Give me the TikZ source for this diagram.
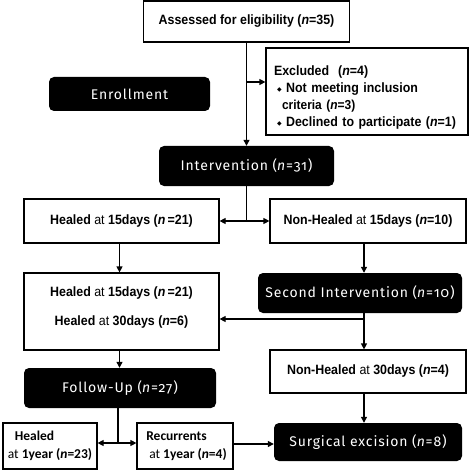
\documentclass[tikz,border=0pt]{standalone}
\usepackage{fontspec}
\setmainfont{Liberation Sans}[FakeStretch=0.92]
\newfontfamily\blkfont[Numbers=OldStyle,LetterSpace=6]{Fira Sans}
\newfontfamily\calfont{Carlito}
\newfontfamily\symfont{DejaVu Sans}
\usetikzlibrary{arrows.meta}
\newcommand{\dmd}{{\symfont\fontsize{6}{6}\selectfont\raisebox{1.5pt}{◆}}}
\tikzset{
  wbox/.style={draw=black, line width=1.2pt, fill=white, inner sep=0pt, align=center,
    font=\fontsize{13.5}{15}\selectfont},
  bbox/.style={fill=black, rounded corners=5pt, inner sep=0pt, text=white,
    font=\blkfont\fontsize{14}{16}\selectfont},
  cbox/.style={draw=black, line width=1.2pt, inner sep=0pt, align=left,
    font=\calfont\fontsize{13.5}{18}\selectfont},
  conn/.style={line width=1.2pt},
  arr/.style={line width=1.2pt, -{Triangle[length=6pt,width=6pt]}}
}
\begin{document}
\begin{tikzpicture}[x=1pt,y=-1pt]
\useasboundingbox[fill=white] (0,0) rectangle (470,470);

\node[wbox, minimum width=206, minimum height=41] (assess) at (246.5,21.5)
  {\textbf{Assessed for eligibility (\textit{n}=35)}};
\node[wbox, minimum width=202, minimum height=87, align=left, text width=186,
  font=\fontsize{13.5}{17}\selectfont] (excl) at (367,91.5)
  {\rule{0pt}{22pt}\textbf{Excluded\ \ (\textit{n}=4)}\\
   \hspace*{3pt}\dmd\ \textbf{Not meeting inclusion}\\
   \hspace*{8pt}{\fontsize{13}{13}\selectfont\textbf{criteria (\textit{n}=3)}}\\
   \hspace*{3pt}\dmd\ \textbf{Declined to participate (\textit{n}=1)}};
\node[bbox, minimum width=161, minimum height=34] (enroll) at (129.5,94) {Enrollment};
\node[bbox, minimum width=175, minimum height=40] (interv) at (246.5,166)
  {Intervention (\textit{n}=31)};
\node[wbox, minimum width=195, minimum height=44] (h15) at (121.5,221)
  {\textbf{Healed} at \textbf{15days (\textit{n}\,=21)}};
\node[wbox, minimum width=196, minimum height=44] (nh15) at (368,221)
  {\textbf{Non-Healed} at \textbf{15days (\textit{n}=10)}};
\node[wbox, minimum width=195, minimum height=77, font=\fontsize{13.5}{29}\selectfont] (h30) at (121.5,311.5)
  {\textbf{Healed} at \textbf{15days (\textit{n}\,=21)}\\
   \textbf{Healed} at \textbf{30days (\textit{n}=6)}\rule[-10pt]{0pt}{10pt}};
\node[bbox, minimum width=204, minimum height=40] (sec) at (360,293)
  {Second Intervention (\textit{n}=10)};
\node[wbox, minimum width=196, minimum height=43] (nh30) at (368,371.5)
  {\textbf{Non-Healed} at \textbf{30days (\textit{n}=4)}};
\node[bbox, minimum width=192, minimum height=40] (follow) at (120,388)
  {Follow-Up (\textit{n}=27)};
\node[bbox, minimum width=188, minimum height=38] (surg) at (368,442)
  {Surgical excision (\textit{n}=8)};
\node[cbox, minimum width=94, minimum height=46] (hy) at (50,446)
  {\hspace*{7pt}\textbf{Healed}\\at \textbf{1year (\textit{n}=23)}};
\node[cbox, minimum width=96, minimum height=46] (rec) at (185,446)
  {\hspace*{3pt}\textbf{Recurrents}\\\hspace*{6pt}at \textbf{1year (\textit{n}=4)}};

% connectors
\draw[arr] (assess.south) -- (interv.north);
\coordinate (ej) at (246.5,82);
\draw[arr] (ej) -- (ej -| excl.west);

\coordinate (sj) at (246.5,221);
\draw[conn] (interv.south) -- (sj);
\draw[arr] (sj) -- (h15.east);
\draw[arr] (sj) -- (nh15.west);

\coordinate (lx) at (119.5,0);
\draw[arr] (lx |- h15.south) -- (lx |- h30.north);

\coordinate (rx) at (364,0);
\draw[arr] (rx |- nh15.south) -- (rx |- sec.north);
\coordinate (sj2) at (364,319);
\draw[conn] (rx |- sec.south) -- (sj2);
\draw[arr] (sj2) -- (sj2 -| h30.east);
\draw[arr] (sj2) -- (rx |- nh30.north);
\draw[arr] (rx |- nh30.south) -- (rx |- surg.north);

\draw[arr] (lx |- h30.south) -- (lx |- follow.north);
\coordinate (fj) at (118,443);
\draw[conn] (fj |- follow.south) -- (fj);
\draw[arr] (fj) -- (fj -| hy.east);
\draw[arr] (fj) -- (fj -| rec.west);

\coordinate (ry) at (0,444);
\draw[arr] (ry -| rec.east) -- (ry -| surg.west);
\end{tikzpicture}
\end{document}
